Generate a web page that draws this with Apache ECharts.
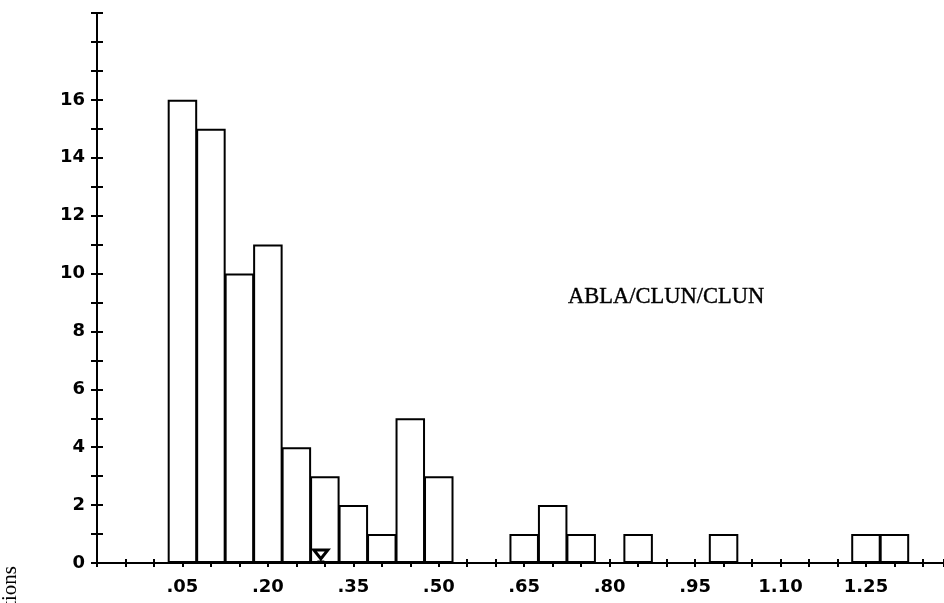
<!DOCTYPE html>
<html>
<head>
<meta charset="utf-8">
<script src="https://cdn.jsdelivr.net/npm/echarts@6/dist/echarts.min.js"></script>
<style>html,body{margin:0;padding:0;background:#fff}#c{width:944px;height:603px}</style>
</head>
<body>
<div id="c"></div>
<script>
// bin centres (class midpoints) and observation counts
var binCenters = [0.05,0.10,0.15,0.20,0.25,0.30,0.35,0.40,0.45,0.50,0.55,0.60,0.65,0.70,0.75,0.80,0.85,0.90,0.95,1.00,1.05,1.10,1.15,1.20,1.25,1.30];
var counts     = [16,  15,  10,  11,  4,   3,   2,   1,   5,   3,   0,   0,   1,   2,   1,   0,   1,   0,   0,   1,   0,   0,   0,   0,   1,   1];
var meanValue = 0.293;
var yTickLabels = [0,2,4,6,8,10,12,14,16];
var plotLabel = 'ABLA/CLUN/CLUN';
var yTitle = 'Observations';

var barData = [];
for (var i = 0; i < binCenters.length; i++) {
  if (counts[i] > 0) barData.push([binCenters[i], counts[i]]);
}

var chart = echarts.init(document.getElementById('c'), null, {renderer: 'canvas'});
var labelFont = {fontFamily: 'DejaVu Sans', fontWeight: 'bold', fontSize: 18, color: '#000'};

function xFmt(v) {
  var r = Math.round(v * 100);
  if (r >= 5 && (r - 5) % 15 === 0) return (r / 100).toFixed(2).replace(/^0/, '');
  return '';
}
function yFmt(v) {
  var r = Math.round(v);
  return yTickLabels.indexOf(r) >= 0 ? String(r) : '';
}

var xBase = {
  type: 'value', min: -0.1, max: 1.387, interval: 0.05, position: 'bottom',
  splitLine: {show: false},
  axisLine: {show: true, onZero: false, lineStyle: {color: '#000', width: 2}},
  minorTick: {show: false}
};
var yBase = {
  type: 'value', min: 0, max: 19, interval: 1, position: 'left',
  splitLine: {show: false},
  axisLine: {show: true, onZero: false, lineStyle: {color: '#000', width: 2}}
};

chart.setOption({
  animation: false,
  backgroundColor: '#fff',
  grid: {left: 97, right: 0, top: 13, bottom: 40, containLabel: false, outerBoundsMode: 'none'},
  xAxis: [
    Object.assign({}, xBase, {
      axisTick: {show: true, length: 4, lineStyle: {color: '#000', width: 2}},
      axisLabel: Object.assign({margin: 15, formatter: xFmt, showMinLabel: true, showMaxLabel: true, hideOverlap: false}, labelFont)
    }),
    Object.assign({}, xBase, {
      axisTick: {show: true, inside: true, length: 4, lineStyle: {color: '#000', width: 2}},
      axisLabel: {show: false}
    })
  ],
  yAxis: [
    Object.assign({}, yBase, {
      axisTick: {show: true, length: 6, lineStyle: {color: '#000', width: 2}},
      axisLabel: Object.assign({margin: 12, formatter: yFmt, showMinLabel: true, showMaxLabel: true, hideOverlap: false}, labelFont)
    }),
    Object.assign({}, yBase, {
      axisTick: {show: true, inside: true, length: 6, lineStyle: {color: '#000', width: 2}},
      axisLabel: {show: false}
    })
  ],
  series: [
    {
      type: 'bar', xAxisIndex: 0, yAxisIndex: 0,
      data: barData, barWidth: 29.5,
      itemStyle: {color: '#fff', borderColor: '#000', borderWidth: 2},
      emphasis: {disabled: true}, silent: true
    },
    {
      type: 'scatter', xAxisIndex: 0, yAxisIndex: 0,
      data: [[meanValue, 0]],
      symbol: 'path://M0,0 L12,0 L6,8 Z M3,11 L9,11',
      symbolSize: [14, 12], symbolOffset: [0, -7],
      itemStyle: {color: '#fff', borderColor: '#000', borderWidth: 3, opacity: 1},
      silent: true, z: 5
    }
  ],
  graphic: [
    {
      type: 'text', x: 568, y: 297,
      style: {text: plotLabel, fontFamily: 'Liberation Serif', fontSize: 22.5, fill: '#000',
              stroke: '#000', lineWidth: 0.4, textVerticalAlign: 'middle', textAlign: 'left'}
    },
    {
      type: 'text', x: 10, y: 566, rotation: Math.PI / 2,
      style: {text: yTitle, fontFamily: 'Liberation Serif', fontSize: 21, fill: '#000',
              textAlign: 'right', textVerticalAlign: 'middle'}
    }
  ]
});
</script>
</body>
</html>
